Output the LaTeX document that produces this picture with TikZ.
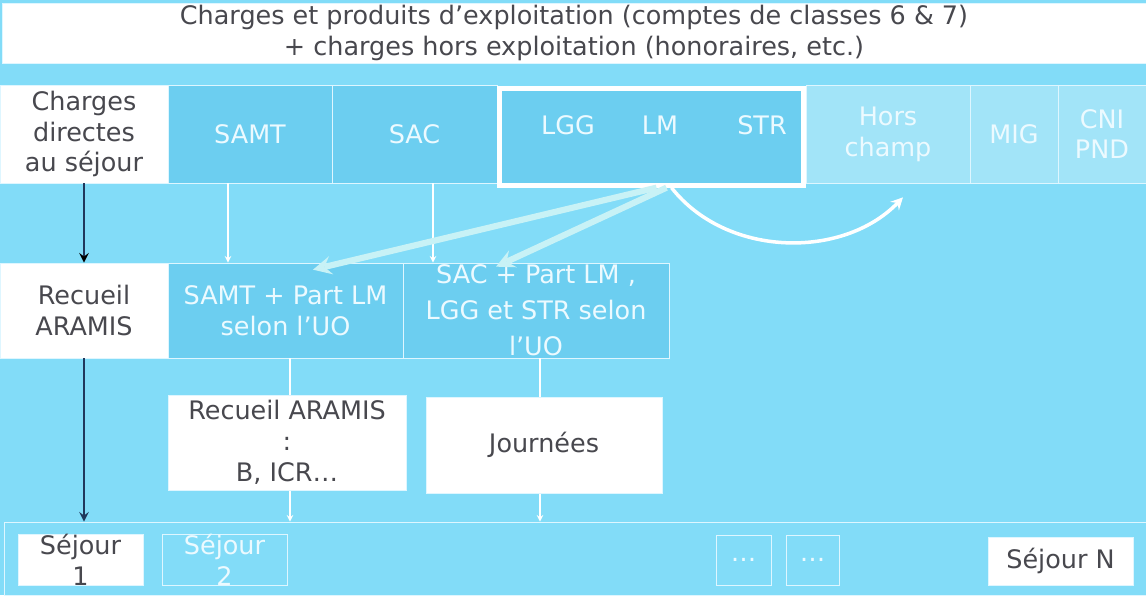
\documentclass[tikz,border=0pt]{standalone}
\usepackage{fontspec}
\setmainfont{DejaVu Sans}
\usepackage{tikz}
\usetikzlibrary{arrows}

\definecolor{fond}{RGB}{130,220,248}
\definecolor{bleu}{RGB}{108,206,240}
\definecolor{clair}{RGB}{162,228,248}
\definecolor{bord}{RGB}{222,246,255}
\definecolor{texteclair}{RGB}{236,250,255}
\definecolor{gris}{RGB}{72,72,78}
\definecolor{marine}{RGB}{32,56,92}
\definecolor{pale}{RGB}{200,242,246}

\begin{document}
\begin{tikzpicture}[>=stealth, x=0.02cm, y=-0.02cm, semithick]
\tikzstyle{every node}=[font=\fontsize{14.5}{17.5}\selectfont, align=center, inner sep=0pt]
\tikzstyle{blanc}=[draw=bord, thin, fill=white, text=gris]
\tikzstyle{bleu}=[draw=bord, thin, fill=bleu, text=texteclair]
\tikzstyle{clair}=[draw=bord, thin, fill=clair, text=texteclair]
\tikzstyle{vide}=[draw=bord, thin, text=texteclair]
\tikzstyle{fleche}=[->, draw=white, line width=0.7pt]
\tikzstyle{sombre}=[->, draw=marine, line width=1.4pt]
\tikzstyle{large}=[->, draw=pale, line width=3.5pt]

\fill[fond] (0,0) rectangle (1146,595);
\useasboundingbox (0,0) rectangle (1146,595);

\node[blanc, minimum width=22.88cm, minimum height=1.2cm, font=\fontsize{14.5}{17.5}\selectfont] (titre) at (574,33) {Charges et produits d’exploitation (comptes de classes 6 \& 7)\\+ charges hors exploitation (honoraires, etc.)};

\node[blanc, minimum width=3.36cm, minimum height=1.96cm] (ch) at (84,134) {Charges\\directes\\au séjour};
\node[bleu, minimum width=3.28cm, minimum height=1.96cm] (samt) at (250,134) {SAMT};
\node[bleu, minimum width=3.3cm, minimum height=1.96cm] (sac) at (414.5,134) {SAC};
\node[bleu, draw=white, line width=2.5pt, minimum width=6.08cm, minimum height=1.94cm] (lgg) at (651.5,137) {};
\node[text=texteclair] (lg) at (568,125) {LGG};
\node[text=texteclair] (lm) at (660,125) {LM};
\node[text=texteclair] (str) at (762,125) {STR};
\node[clair, minimum width=3.28cm, minimum height=1.96cm] (hc) at (888,134) {Hors\\champ};
\node[clair, minimum width=1.76cm, minimum height=1.96cm] (mig) at (1014,134) {MIG};
\node[clair, minimum width=1.76cm, minimum height=1.96cm] (cni) at (1102,134) {CNI\\PND};

\node[blanc, minimum width=3.36cm, minimum height=1.9cm] (ra) at (84,310.5) {Recueil\\ARAMIS};
\node[bleu, minimum width=4.7cm, minimum height=1.9cm] (samtp) at (285.5,310.5) {SAMT + Part LM\\selon l’UO};
\node[bleu, minimum width=5.32cm, minimum height=1.9cm, font=\fontsize{14.5}{20.5}\selectfont] (sacp) at (536,310.5) {SAC + Part LM ,\\LGG et STR selon\\l’UO};

\node[vide, minimum width=22.84cm, minimum height=1.46cm] (bande) at (575,558.5) {};

\draw[fleche] ([xshift=0.09cm]samtp.south) -- ([xshift=0.09cm]samtp.south |- bande.north);
\draw[fleche] ([xshift=0.08cm]sacp.south) -- ([xshift=0.08cm]sacp.south |- bande.north);

\node[blanc, minimum width=4.76cm, minimum height=1.9cm] (rab) at (287,442.5) {Recueil ARAMIS\\:\\B, ICR…};
\node[blanc, minimum width=4.72cm, minimum height=1.92cm] (jour) at (544,445) {Journées};

\node[blanc, minimum width=2.5cm, minimum height=1cm] (s1) at (80.5,560) {Séjour\\1};
\node[vide, minimum width=2.5cm, minimum height=1cm] (s2) at (224.5,560) {Séjour\\2};
\node[vide, minimum width=1.1cm, minimum height=1cm] (p1) at (743.5,560) {…};
\node[vide, minimum width=1.06cm, minimum height=1cm] (p2) at (812.5,560) {…};
\node[blanc, minimum width=2.9cm, minimum height=0.96cm] (sn) at (1060.5,561) {Séjour N};

\draw[fleche] ([xshift=-0.44cm]samt.south) -- ([xshift=-0.44cm]samt.south |- samtp.north);
\draw[fleche] ([xshift=0.37cm]sac.south) -- ([xshift=0.37cm]sac.south |- sacp.north);
\path[sombre] (ch) edge (ra);
\draw[sombre] (ra.south) -- (ra.south |- bande.north);

\draw[large] ([xshift=0.1cm]lgg.south) -- ([xshift=0.55cm, yshift=-0.14cm]samtp.north);
\draw[large] ([xshift=0.3cm]lgg.south) -- ([xshift=-0.8cm, yshift=-0.08cm]sacp.north);
\draw[->, draw=white, line width=2pt] ([xshift=0.4cm]lgg.south) .. controls +(55,70) and +(-60,62) .. ([xshift=0.3cm, yshift=-0.28cm]hc.south);
\end{tikzpicture}
\end{document}
